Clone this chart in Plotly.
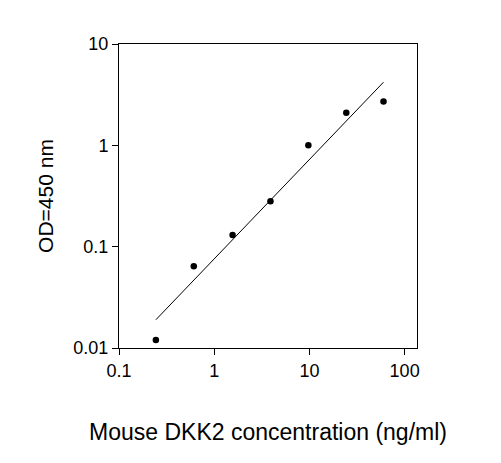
import plotly.graph_objects as go

conc = [0.244, 0.61, 1.56, 3.9, 9.75, 24.4, 60]
od = [0.012, 0.064, 0.13, 0.28, 1.0, 2.1, 2.7]
fit_x = [0.244, 60]
fit_y = [0.019, 4.2]

fig = go.Figure()
fig.add_trace(go.Scatter(x=fit_x, y=fit_y, mode="lines", line=dict(color="black", width=1)))
fig.add_trace(go.Scatter(x=conc, y=od, mode="markers", marker=dict(color="black", size=6.5)))

ax = dict(type="log", showgrid=False, zeroline=False, showline=True, linecolor="black",
          linewidth=1, mirror=True, ticks="outside", ticklen=6, tickcolor="black",
          tickfont=dict(family="Arial", size=18, color="black"))
fig.update_layout(
    width=501, height=463, showlegend=False,
    plot_bgcolor="white", paper_bgcolor="white",
    margin=dict(l=111, r=92, t=36, b=123),
    font=dict(family="Arial", color="black"),
    xaxis=dict(ax, range=[-1, 2.13], tickvals=[0.1, 1, 10, 100], ticktext=["0.1", "1", "10", "100"],
               title=dict(text="Mouse DKK2 concentration (ng/ml)", font=dict(size=23), standoff=44)),
    yaxis=dict(ax, range=[-2, 1], tickvals=[0.01, 0.1, 1, 10], ticktext=["0.01", "0.1", "1", "10"],
               title=dict(text="OD=450 nm", font=dict(size=21), standoff=14)),
)
fig.write_html("out.html")
